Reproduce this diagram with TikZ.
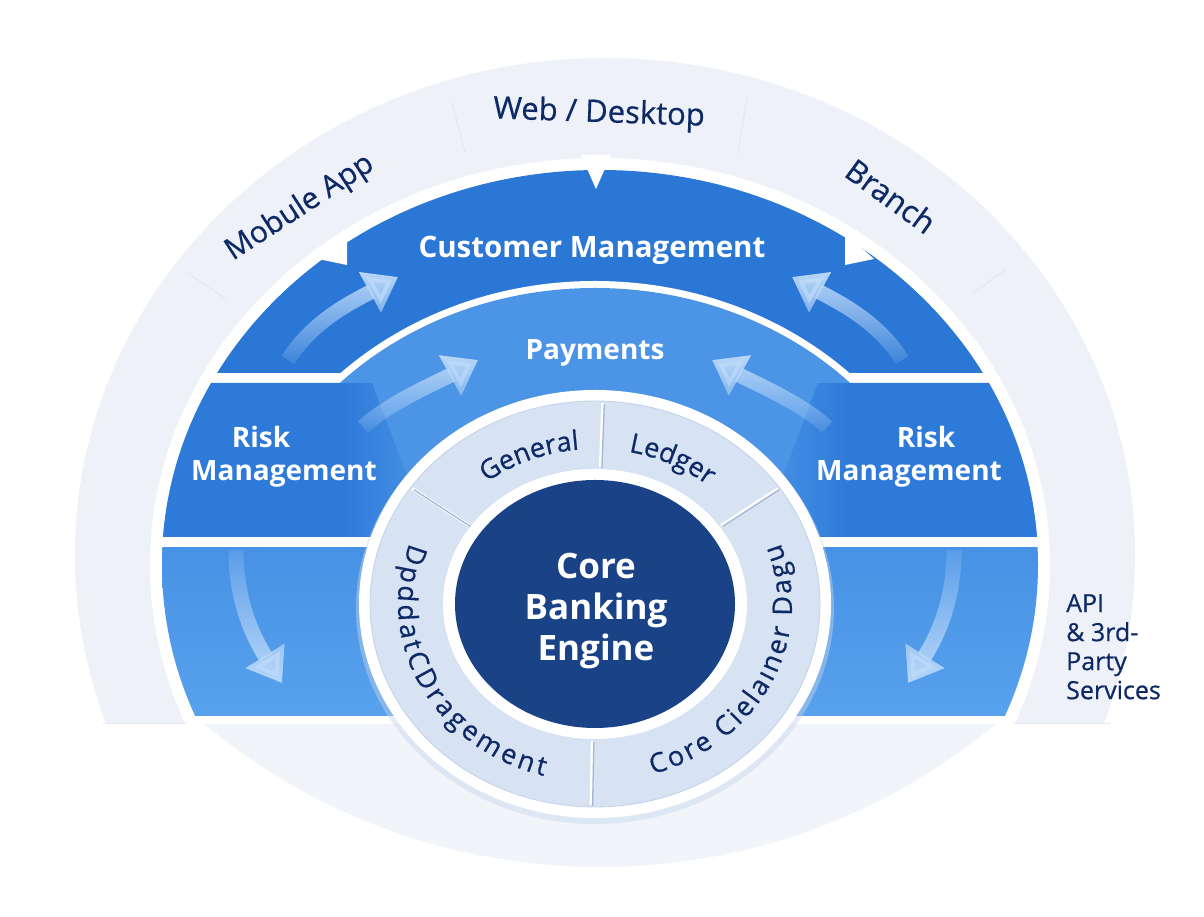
\documentclass[tikz,border=0pt]{standalone}
\usepackage{fontspec}
\IfFontExistsTF{Open Sans}{\setmainfont{Open Sans}}{\setmainfont{Noto Sans}}
\IfFontExistsTF{Open Sans SemiBold}{\newfontfamily\labelfont{Open Sans SemiBold}}{%
  \IfFontExistsTF{Open Sans Bold}{\newfontfamily\labelfont{Open Sans Bold}}{%
    \IfFontExistsTF{Noto Sans Bold}{\newfontfamily\labelfont{Noto Sans Bold}}{\newfontfamily\labelfont{Noto Sans}[FakeBold=2.2]}}}
\IfFontExistsTF{Open Sans Medium}{\newfontfamily\inkfont{Open Sans Medium}}{\newfontfamily\inkfont{Open Sans}[FakeBold=0.6]}
\usetikzlibrary{arrows.meta,decorations.text,fadings,calc}

\definecolor{pale}{HTML}{EEF2F8}
\definecolor{palelow}{HTML}{F1F4F9}
\definecolor{cmblue}{HTML}{2A77D6}
\definecolor{riskblue}{HTML}{2D7AD8}
\definecolor{payblue}{HTML}{4B94E6}
\definecolor{lowtop}{HTML}{4892E6}
\definecolor{lowbot}{HTML}{58A1EC}
\definecolor{ringgray}{HTML}{D7E2F3}
\definecolor{ringedge}{HTML}{C3D2E8}
\definecolor{navy}{HTML}{1A4287}
\definecolor{ink}{HTML}{0E2A66}
\definecolor{arrowc}{HTML}{BCD9F9}
\definecolor{divline}{HTML}{A3B6D2}
\definecolor{faint}{HTML}{E2E7EF}
\definecolor{shadowc}{HTML}{C6D5EC}

\pgfdeclarehorizontalshading{riskL}{100bp}{color(0bp)=(riskblue); color(25bp)=(riskblue); color(60bp)=(riskblue); color(75bp)=(payblue); color(100bp)=(payblue)}
\pgfdeclarehorizontalshading{riskR}{100bp}{color(0bp)=(payblue); color(25bp)=(payblue); color(40bp)=(riskblue); color(75bp)=(riskblue); color(100bp)=(riskblue)}

\tikzfading[name=fadeup, top color=transparent!0, bottom color=transparent!90]
\tikzfading[name=fadedown, top color=transparent!90, bottom color=transparent!0]

\newcommand\ringfont{\inkfont\fontsize{27}{30}\selectfont}

\tikzset{
  flowarrow/.style={draw=arrowc, line width=15pt, -{Triangle[length=32pt,width=44pt]}},
  whitelabel/.style={text=white, font=\labelfont\fontsize{28}{33}\selectfont, inner sep=0pt},
  cmlabel/.style={text=white, font=\labelfont\fontsize{29.5}{33}\selectfont, inner sep=0pt},
  corelabel/.style={text=white, font=\labelfont\fontsize{35}{41}\selectfont, inner sep=0pt, align=center},
  inklabel/.style={text=ink, font=\inkfont\fontsize{31}{34}\selectfont, inner sep=0pt},
  apilabel/.style={text=ink, font=\inkfont\fontsize{25}{29}\selectfont, inner sep=0pt, align=left},
  ringtext/.style={decorate, decoration={text along path, text color=ink, text={|\ringfont|#1}, text align=center}},
  ringfit/.style={decorate, decoration={text along path, text color=ink, text={|\ringfont|#1}, text align=fit to path}},
  divider/.style={draw=divline, line width=1.3pt},
  faintline/.style={draw=faint, line width=1pt}
}

\begin{document}
\begin{tikzpicture}[x=1pt,y=1pt]
\useasboundingbox (0,0) rectangle (1204,917);
\fill[white] (0,0) rectangle (1204,917);

% pale outer band
\begin{scope}
  \clip (0,193) rectangle (1204,917);
  \fill[pale] (605,362) ellipse [x radius=530, y radius=497];
\end{scope}
\begin{scope}
  \clip (0,0) rectangle (1204,194);
  \fill[palelow] (600,669) circle [radius=619];
\end{scope}
\draw[faintline] (103,193) -- (1110,193);
\draw[faintline] (452,814) -- (465,765);
\draw[faintline] (747,820) -- (738,764);
\draw[faintline] (188,644) -- (227,617);
\draw[faintline] (973,624) -- (1005,647);

% white border of blue ring
\begin{scope}
  \clip (0,193) rectangle (1204,917);
  \fill[white] (600,352) ellipse [x radius=450, y radius=407];
\end{scope}

% blue bands
\begin{scope}
  \clip (600,352) ellipse [x radius=438, y radius=395];
  \fill[cmblue] (100,544) rectangle (1100,800);
  \fill[payblue] (100,380) rectangle (1100,534);
  \shade[shading=riskL] (140,380) -- (140,534) -- (372,534) -- (430,380) -- cycle;
  \shade[shading=riskR] (1060,380) -- (1060,534) -- (818,534) -- (760,380) -- cycle;
  \shade[top color=lowtop, bottom color=lowbot] (100,201) rectangle (1100,369);
\end{scope}

% payments arc
\begin{scope}
  \clip (0,539) rectangle (1204,917);
  \fill[white] (595,313) ellipse [x radius=364, y radius=323];
\end{scope}
\begin{scope}
  \clip (0,534) rectangle (1204,917);
  \fill[payblue] (595,313) ellipse [x radius=357, y radius=316];
\end{scope}

% notches on the outer edge
\fill[white] (581,762) -- (611,762) -- (596,728) -- cycle;
\fill[white] (318,658) -- (347,684) -- (347,652) -- cycle;
\fill[white] (874,658) -- (845,684) -- (845,652) -- cycle;

% flow arrows
\coordinate (a1s) at (288,557); \coordinate (a1e) at (398,640);
\coordinate (a2s) at (902,557); \coordinate (a2e) at (792,640);
\coordinate (a3s) at (363,490); \coordinate (a3e) at (478,557);
\coordinate (a4s) at (827,490); \coordinate (a4e) at (712,557);
\coordinate (a5s) at (236,367); \coordinate (a5e) at (282,234);
\coordinate (a6s) at (954,367); \coordinate (a6e) at (908,234);
\draw[flowarrow, path fading=fadeup] (a1s) .. controls (313,597) and (354,616) .. (a1e);
\draw[flowarrow, path fading=fadeup] (a2s) .. controls (877,597) and (836,616) .. (a2e);
\draw[flowarrow, path fading=fadeup] (a3s) .. controls (390,515) and (440,536) .. (a3e);
\draw[flowarrow, path fading=fadeup] (a4s) .. controls (800,515) and (750,536) .. (a4e);
\draw[flowarrow, path fading=fadedown] (a5s) .. controls (236,320) and (250,285) .. (a5e);
\draw[flowarrow, path fading=fadedown] (a6s) .. controls (954,320) and (940,285) .. (a6e);

% core ring
\fill[shadowc, opacity=.45] (595,309) ellipse [x radius=239, y radius=216];
\fill[white] (595,313) ellipse [x radius=236, y radius=214];
\filldraw[fill=ringgray, draw=ringedge, line width=.8pt] (595,313) ellipse [x radius=225, y radius=203];
\fill[white] (595,313) ellipse [x radius=152, y radius=135];
\fill[navy] (595,313) ellipse [x radius=140, y radius=124];

% segment dividers
\foreach \a in {88,145,35,269} {
  \draw[white, line width=3pt] ($(595,313)+(\a:154 and 137)$) -- ($(595,313)+(\a:223 and 201)$);
  \draw[divider] ($(595,313)+(\a:154 and 137)+(1.5,-1)$) -- ($(595,313)+(\a:223 and 201)+(1.5,-1)$);
}

% texts on the ring
\path[ringtext=General] (595,313) ++(140:175 and 155) arc[start angle=140, end angle=84, x radius=175, y radius=155];
\path[ringtext=Ledger] (595,313) ++(92:175 and 155) arc[start angle=92, end angle=36, x radius=175, y radius=155];
\path[ringfit=DpddatCDragement] (595,313) ++(160:197 and 178) arc[start angle=160, end angle=255, x radius=197, y radius=178];
\path[ringfit={Core Cielaıner Dagu}] (595,313) ++(287:197 and 178) arc[start angle=287, end angle=380, x radius=197, y radius=178];

% labels
\node[cmlabel] (cm) at (592,667) {Customer Management};
\node[whitelabel] (pay) at (595,564) {Payments};
\node[whitelabel] (rl1) at (261,480) {Risk};
\node[whitelabel] (rl2) at (284,443) {Management};
\node[whitelabel] (rr1) at (926,480) {Risk};
\node[whitelabel] (rr2) at (909,443) {Management};
\node[corelabel] (core) at (596,306) {Core\\Banking\\Engine};
\node[inklabel, font=\inkfont\fontsize{30}{34}\selectfont, rotate=33] (mob) at (300,709) {Mobule App};
\node[inklabel, rotate=-2] (web) at (599,803) {Web / Desktop};
\node[inklabel, rotate=-36] (br) at (891,721) {Branch};
\node[apilabel, anchor=north west] (api) at (1066,323) {API\\\& 3rd-\\Party\\Services};
\end{tikzpicture}
\end{document}
